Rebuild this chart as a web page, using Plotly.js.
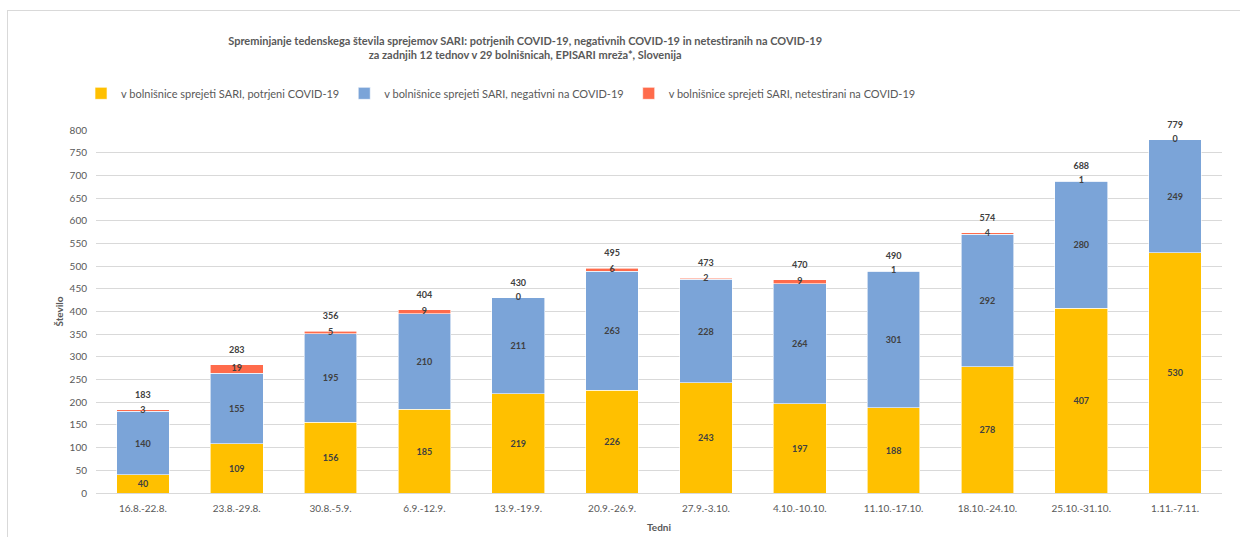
<!DOCTYPE html>
<html>
<head>
<meta charset="utf-8">
<script src="https://cdn.plot.ly/plotly-3.0.1.min.js"></script>
<style>
html,body{margin:0;padding:0;background:#fff;}
#frame{position:absolute;left:7px;top:10px;width:1240px;height:540px;border-left:1px solid #d9d9d9;border-top:1px solid #d9d9d9;pointer-events:none;}
#chart{position:absolute;left:0;top:0;width:1240px;height:537px;}
</style>
</head>
<body>
<div id="chart"></div>
<div id="frame"></div>
<script>
const weeks = ["16.8.-22.8.","23.8.-29.8.","30.8.-5.9.","6.9.-12.9.","13.9.-19.9.","20.9.-26.9.","27.9.-3.10.","4.10.-10.10.","11.10.-17.10.","18.10.-24.10.","25.10.-31.10.","1.11.-7.11."];
const confirmed = [40,109,156,185,219,226,243,197,188,278,407,530];
const negative = [140,155,195,210,211,263,228,264,301,292,280,249];
const untested = [3,19,5,9,0,6,2,9,1,4,1,0];
const totals = [183,283,356,404,430,495,473,470,490,574,688,779];

const seriesNames = [
  "v bolnišnice sprejeti SARI, potrjeni COVID-19",
  "v bolnišnice sprejeti SARI, negativni na COVID-19",
  "v bolnišnice sprejeti SARI, netestirani na COVID-19"
];
const colors = ["#FFC000","#7BA4D8","#FF6B4B"];
const labelFont = {family:"Lato, 'Open Sans', sans-serif", size:9, color:"#404040", weight:"bold"};

function barTrace(vals, i, showText){
  return {
    type:"bar", x:weeks, y:vals, name:seriesNames[i],
    marker:{color:colors[i], line:{color:"#ffffff", width:0.6}},
    text:vals.map(String), textposition: showText ? "inside" : "none", insidetextanchor:"middle",
    textfont:labelFont, constraintext:"none", textangle:0,
    hoverinfo:"x+y+name"
  };
}
// labels of the thin untested segment, centred on the segment (also for zero values)
const untestedMid = untested.map((v,k) => confirmed[k] + negative[k] + v/2);

const traces = [barTrace(confirmed,0,true), barTrace(negative,1,true), barTrace(untested,2,false),
  {type:"scatter", mode:"text", x:weeks, y:untestedMid, text:untested.map(String),
   textposition:"middle center", textfont:labelFont, showlegend:false, hoverinfo:"skip", cliponaxis:false},
  {type:"scatter", mode:"markers+text", x:weeks, y:totals, text:totals.map(String),
   marker:{size:14, opacity:0, color:"#ffffff"},
   textposition:"top center", textfont:labelFont, showlegend:false, hoverinfo:"skip", cliponaxis:false}
];

const layout = {
  width:1240, height:537,
  margin:{l:96, r:18, t:130, b:44},
  paper_bgcolor:"#ffffff", plot_bgcolor:"#ffffff",
  font:{family:"Lato, 'Open Sans', sans-serif", color:"#595959", size:10},
  barmode:"stack", bargap:0.44,
  title:{text:"Spreminjanje tedenskega števila sprejemov SARI: potrjenih COVID-19, negativnih COVID-19 in netestiranih na COVID-19<br>za zadnjih 12 tednov v 29 bolnišnicah, EPISARI mreža*, Slovenija",
    x:0.4235, xanchor:"center", y:0.917, yanchor:"middle",
    font:{size:11, color:"#595959", weight:"bold"}},
  showlegend:true,
  legend:{orientation:"h", x:-0.0133, xanchor:"left", y:1.101, yanchor:"middle",
    font:{size:11, color:"#595959"}, traceorder:"normal", itemwidth:30},
  xaxis:{type:"category", range:[-0.5, weeks.length-0.5], autorange:false,
    showgrid:false, showline:true, linecolor:"#d9d9d9", linewidth:1,
    ticks:"", tickfont:{size:10, color:"#595959"}, ticklabelstandoff:6, automargin:false,
    title:{text:"Tedni", font:{size:10, color:"#595959", weight:"bold"}, standoff:10}},
  yaxis:{range:[0,800], dtick:50, showgrid:true, gridcolor:"#d9d9d9", gridwidth:1, zeroline:false,
    showline:false, ticks:"", tickfont:{size:10, color:"#595959"}, ticklabelstandoff:8, automargin:false,
    title:{text:"Število", font:{size:10, color:"#595959", weight:"bold"}, standoff:4}}
};
Plotly.newPlot("chart", traces, layout, {displayModeBar:false, staticPlot:true});
</script>
</body>
</html>
